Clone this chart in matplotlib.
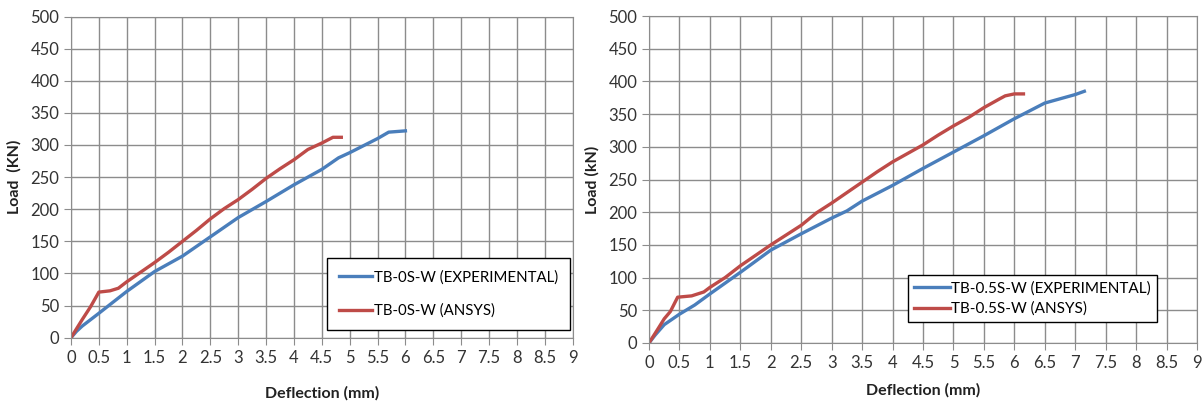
import numpy as np
import matplotlib.pyplot as plt

plt.rcParams['font.family'] = ['Lato', 'DejaVu Sans']

# left chart: TB-0S-W
exp0_x = [0, 0.1, 0.2, 0.5, 1.0, 1.5, 2.0, 2.5, 2.8, 3.0, 3.5, 4.0, 4.5, 4.8, 5.0, 5.5, 5.7, 6.0]
exp0_y = [0, 10, 18, 38, 72, 103, 127, 157, 175, 187, 212, 238, 262, 280, 288, 310, 320, 322]
ans0_x = [0, 0.2, 0.35, 0.5, 0.7, 0.85, 1.0, 1.25, 1.5, 1.75, 2.0, 2.25, 2.5, 2.75, 3.0,
          3.25, 3.5, 3.75, 4.0, 4.25, 4.5, 4.7, 4.85]
ans0_y = [0, 28, 48, 71, 73, 77, 87, 102, 117, 133, 150, 167, 185, 201, 215,
          231, 248, 263, 277, 293, 303, 312, 312]

# right chart: TB-0.5S-W
exp5_x = [0, 0.1, 0.25, 0.5, 0.75, 1.0, 1.5, 2.0, 2.5, 3.0, 3.25, 3.5, 4.0, 4.5, 5.0,
          5.5, 6.0, 6.25, 6.5, 7.0, 7.15]
exp5_y = [0, 12, 28, 44, 58, 75, 108, 142, 167, 191, 202, 217, 241, 267, 292,
          317, 343, 355, 367, 380, 385]
ans5_x = [0, 0.15, 0.25, 0.35, 0.47, 0.7, 0.9, 1.0, 1.25, 1.5, 1.75, 2.0, 2.25, 2.5, 2.75,
          3.0, 3.25, 3.5, 3.75, 4.0, 4.25, 4.5, 4.75, 5.0, 5.25, 5.5, 5.75, 5.85, 6.0, 6.15]
ans5_y = [0, 22, 37, 48, 70, 72, 78, 85, 100, 118, 134, 150, 165, 180, 199,
          214, 230, 246, 262, 277, 290, 303, 318, 332, 345, 360, 373, 378, 381, 381]

blue = '#4a7ebb'
red = '#be4b48'

fig = plt.figure(figsize=(12.03, 4.03), dpi=100)
ax1 = fig.add_axes([0.059, 0.162, 0.417, 0.797])
ax2 = fig.add_axes([0.5395, 0.149, 0.4555, 0.811])


def setup(ax, ylabel, pad):
    ax.set_xlim(0, 9)
    ax.set_ylim(0, 500)
    ticks = np.arange(0, 9.01, 0.5)
    ax.set_xticks(ticks)
    ax.set_xticklabels(['{:g}'.format(v) for v in ticks])
    ax.set_yticks(np.arange(0, 501, 50))
    ax.grid(True, color='#8c8c8c', linewidth=1)
    ax.set_axisbelow(True)
    for s in ax.spines.values():
        s.set_color('#8c8c8c')
    ax.tick_params(colors='#8c8c8c', labelcolor='#333333', labelsize=12, length=5)
    ax.set_xlabel('Deflection (mm)', fontweight='bold', fontsize=11.5, color='#222222', labelpad=pad)
    ax.set_ylabel(ylabel, fontweight='bold', fontsize=11.5, color='#222222', labelpad=6)


setup(ax1, 'Load  (KN)', 15)
ax1.plot(exp0_x, exp0_y, color=blue, lw=2.4, label='TB-0S-W (EXPERIMENTAL)')
ax1.plot(ans0_x, ans0_y, color=red, lw=2.4, label='TB-0S-W (ANSYS)')
leg1 = ax1.legend(loc='center', bbox_to_anchor=(0.753, 0.136),
                  fontsize=10.8, handlelength=2.2, handletextpad=0.1, labelspacing=1.25,
                  fancybox=False, edgecolor='black', framealpha=1, borderpad=0.8,
                  borderaxespad=0)
leg1.get_frame().set_linewidth(1)

setup(ax2, 'Load (kN)', 9)
ax2.plot(exp5_x, exp5_y, color=blue, lw=2.4, label='TB-0.5S-W (EXPERIMENTAL)')
ax2.plot(ans5_x, ans5_y, color=red, lw=2.4, label='TB-0.5S-W (ANSYS)')
leg2 = ax2.legend(loc='center', bbox_to_anchor=(0.700, 0.136),
                  fontsize=11, handlelength=2.3, handletextpad=0.1, labelspacing=0.4,
                  fancybox=False, edgecolor='black', framealpha=1, borderpad=0.4,
                  borderaxespad=0)
leg2.get_frame().set_linewidth(1)

fig.savefig('out.png', dpi=100)
